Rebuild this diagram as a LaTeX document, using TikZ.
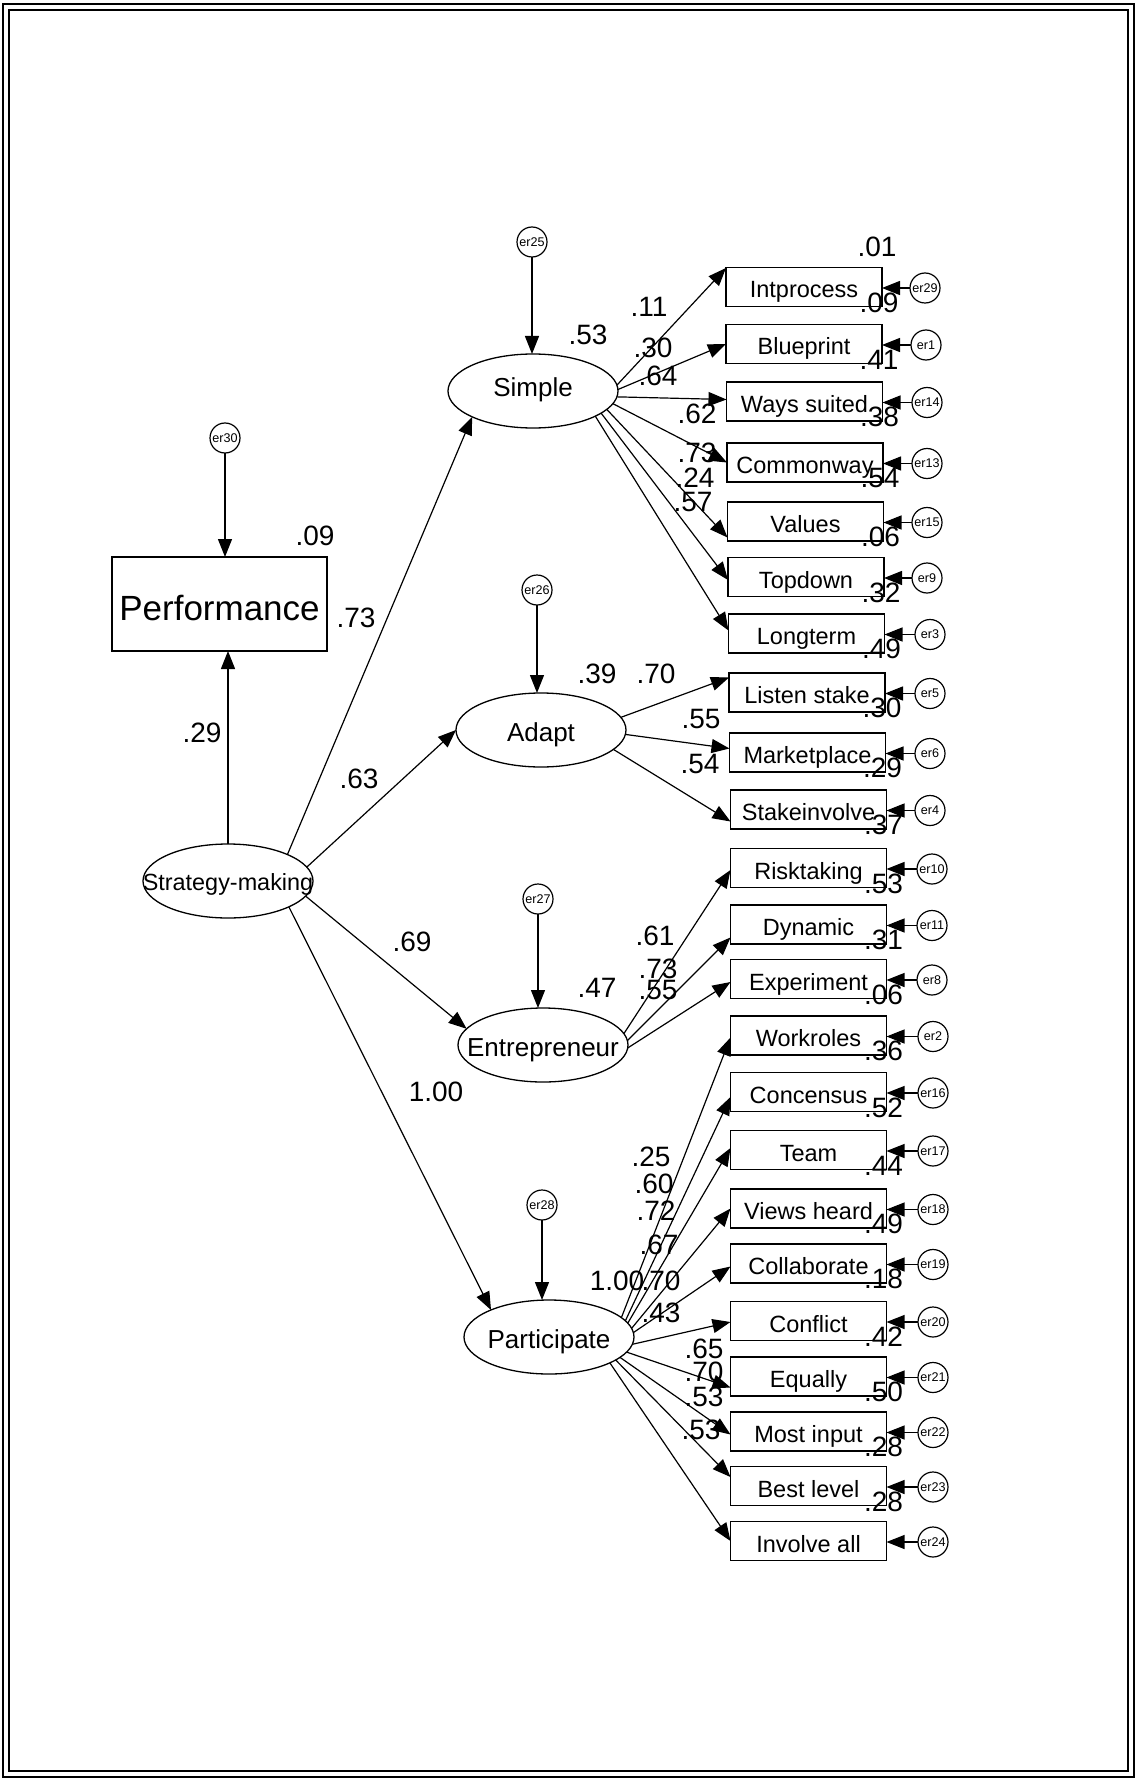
\documentclass[tikz,border=0pt]{standalone}
\usepackage{fontspec}
\setmainfont{Liberation Sans}
\usetikzlibrary{arrows.meta,shapes.geometric,calc}
\begin{document}
\begin{tikzpicture}[x=0.5pt,y=-0.5pt,
  every node/.style={inner sep=0pt,outer sep=0pt},
  lat/.style={draw,ellipse,line width=0.65pt,minimum width=85pt,minimum height=37pt},
  lattext/.style={anchor=base,font=\fontsize{13}{13}\selectfont},
  obs/.style={draw,rectangle,line width=0.65pt,minimum width=78pt,minimum height=19.5pt,
    text height=11pt,text depth=0pt,font=\fontsize{11.75}{12}\selectfont},
  err/.style={draw,circle,line width=0.6pt,minimum size=15pt,font=\fontsize{6.3}{6.3}\selectfont},
  num/.style={font=\fontsize{14}{14}\selectfont},
  arr/.style={line width=0.6pt,-{Triangle[length=9pt,width=7pt]}}
]
\useasboundingbox (0,0) rectangle (1138,1781);
% frame
\draw[line width=1.4pt] (3,4) rectangle (1134,1777);
\draw[line width=0.6pt] (9,10) rectangle (1128,1771);

% Performance
\node[draw,rectangle,line width=0.65pt,minimum width=107.5pt,minimum height=47pt,
  text height=16.6pt,text depth=0pt,font=\fontsize{17.5}{18}\selectfont] (perf) at (219.5,604) {Performance};
\node[err] (er30) at (225,438) {er30};

% latent variables
\node[lat] (strat) at (228,881) {};
\node[lattext,font=\fontsize{11.7}{12}\selectfont] (strat-t) at ($(strat)+(0,9)$) {Strategy-making};
\node[lat] (simple) at (533,391) {};
\node[lattext] (simple-t) at ($(simple)+(0,5)$) {Simple};
\node[lat] (adapt) at (541,730) {};
\node[lattext] (adapt-t) at ($(adapt)+(0,11)$) {Adapt};
\node[lat] (entre) at (543,1045) {};
\node[lattext] (entre-t) at ($(entre)+(0,11)$) {Entrepreneur};
\node[lat] (part) at (549,1337) {};
\node[lattext] (part-t) at ($(part)+(0,11)$) {Participate};

\node[err] (er25) at (532,242) {er25};
\node[err] (er26) at (537,590) {er26};
\node[err] (er27) at (538,899) {er27};
\node[err] (er28) at (542,1205) {er28};

% observed variables with errors
\foreach \i/\t/\y/\x/\ex/\e in {
  1/Intprocess/287/804/925/er29,
  2/Blueprint/344/804/926/er1,
  3/Ways suited/401.5/804.5/927/er14,
  4/Commonway/462.5/805/927/er13,
  5/Values/521.5/805.5/927/er15,
  6/Topdown/577/806/927/er9,
  7/Longterm/633.5/806.5/930/er3,
  8/Listen stake/692.5/807/930/er5,
  9/Marketplace/752.5/807.5/930/er6,
  10/Stakeinvolve/809.5/808.5/930/er4,
  11/Risktaking/868/808.5/932/er10,
  12/Dynamic/924.5/808.5/932/er11,
  13/Experiment/979/808.5/932/er8,
  14/Workroles/1035.5/808.5/933/er2,
  15/Concensus/1092/808.5/933/er16,
  16/Team/1150/808.5/933/er17,
  17/Views heard/1208.5/808.5/933/er18,
  18/Collaborate/1263.5/808.5/933/er19,
  19/Conflict/1321/808.5/933/er20,
  20/Equally/1376.5/808.5/933/er21,
  21/Most input/1431.5/808.5/933/er22,
  22/Best level/1486/808.5/933/er23,
  23/Involve all/1541/808.5/933/er24}{
  \node[obs] (b\i) at (\x,\y) {\t};
  \node[err] (e\i) at (\ex,\y+1) {\e};
  \draw[arr] (e\i) -- (b\i.east |- e\i);
}

% structural paths
\draw[arr] (er30) -- (er30 |- perf.north);
\draw[arr] (strat.north) -- (strat.north |- perf.south);
\draw[arr] (strat.24) -- (simple.203);
\draw[arr] (strat.10) -- (adapt.west);
\draw[arr] (strat.-11) -- (entre.168);
\draw[arr] (strat.-23) -- (part.155);
\draw[arr] (er25) -- (er25 |- simple.north);
\draw[arr] (er26) -- (er26 |- adapt.north);
\draw[arr] (er27) -- (er27 |- entre.north);
\draw[arr] (er28) -- (er28 |- part.north);

% measurement paths
\foreach \l/\i/\a/\d in {
  simple/1/4/-19, simple/2/1/0, simple/3/-4/-2, simple/4/-9/0,
  simple/5/-14/16, simple/6/-18/3, simple/7/-22/-3,
  adapt/8/9/-15, adapt/9/-3/-4, adapt/10/-15/12,
  entre/11/8/2, entre/12/3/13, entre/13/-2/3,
  part/14/15/2, part/15/12/5, part/16/10/-2, part/17/6/0, part/18/3/3,
  part/19/-5/1, part/20/-11/11, part/21/-16/3, part/22/-19/-9, part/23/-23/0}{
  \draw[arr] (\l.\a) -- ($(b\i.west)+(0,\d)$);
}

% squared multiple correlations of observed variables
\node[num] (r1) at (877,247) {.01};
\foreach \i/\v in {2/.09,3/.41,4/.38,5/.54,6/.06,7/.32,8/.49,9/.30,10/.29,11/.37,
  12/.53,13/.31,14/.06,15/.36,16/.52,17/.44,18/.49,19/.18,20/.42,21/.50,22/.28,23/.28}{
  \pgfmathtruncatemacro\p{\i-1}
  \node[num] (r\i) at ($(b\p.south east)+(-3,-4)$) {\v};
}

% coefficients
\foreach \n/\v/\x/\y in {
  g1/.29/202/733, g2/.73/356/618, g3/.63/359/779, g4/.69/412/942, g5/1.00/436/1092,
  rperf/.09/315/536, rsimple/.53/588/335, radapt/.39/597/674, rentre/.47/597/988, rpart/1.00/617/1281,
  ls1/.11/649/307, ls2/.30/653/348, ls3/.64/658/376, ls4/.62/697/414, ls5/.73/697/453,
  ls6/.24/695/478, ls7/.57/693/502,
  la1/.70/656/674, la2/.55/701/719, la3/.54/700/764,
  le1/.61/655/936, le2/.73/658/969, le3/.55/658/990,
  lp1/.25/651/1157, lp2/.60/654/1184, lp3/.72/656/1211, lp4/.67/659/1245, lp5/.70/661/1281,
  lp6/.43/661/1313, lp7/.65/704/1349, lp8/.70/704/1372, lp9/.53/704/1397, lp10/.53/701/1430}{
  \node[num] (\n) at (\x,\y) {\v};
}
\end{tikzpicture}
\end{document}
